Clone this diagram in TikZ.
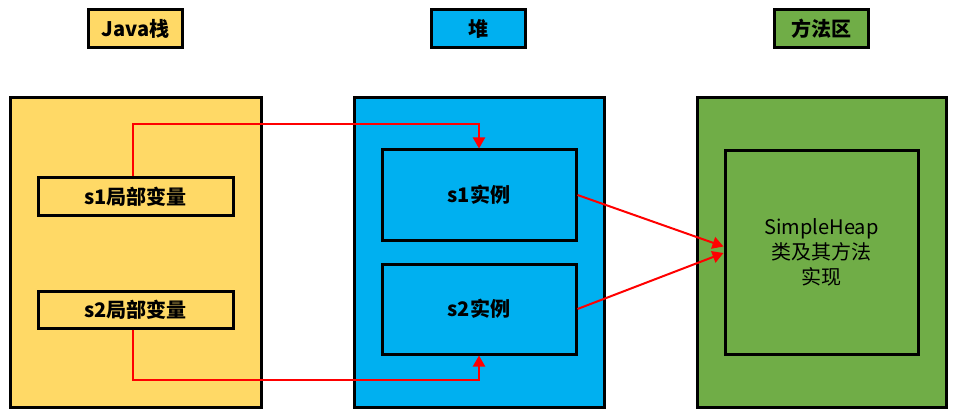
\documentclass[tikz,border=0pt]{standalone}
\usepackage{fontspec}
\setmainfont{Noto Sans CJK SC}
\usetikzlibrary{arrows.meta}
\definecolor{stackyellow}{RGB}{255,217,102}
\definecolor{heapblue}{RGB}{0,176,240}
\definecolor{methodgreen}{RGB}{112,173,71}
\tikzset{
  area/.style={draw, line width=0.06cm, inner sep=0pt},
  title/.style={area, minimum width=1.88cm, minimum height=0.76cm, font=\fontsize{11.4}{14}\selectfont\bfseries},
  item/.style={area, font=\fontsize{11.4}{14}\selectfont\bfseries},
  link/.style={draw=red, line width=0.04cm, -{Triangle[width=0.24cm,length=0.22cm]}}
}
\begin{document}
\begin{tikzpicture}
    \useasboundingbox (0,0) rectangle (19.12,8.34);
    {
    % Titles
    \node [title, fill=stackyellow] (javatitle) at (2.71,7.76) {Java栈};
    \node [title, fill=heapblue] (heaptitle) at (9.57,7.76) {堆};
    \node [title, fill=methodgreen] (methodtitle) at (16.43,7.76) {方法区};

    % Big areas
    \node [area, fill=stackyellow, minimum width=5.02cm, minimum height=6.18cm] (stack) at (2.71,3.29) {};
    \node [area, fill=heapblue, minimum width=5.00cm, minimum height=6.18cm] (heap) at (9.58,3.29) {};
    \node [area, fill=methodgreen, minimum width=4.98cm, minimum height=6.18cm] (method) at (16.43,3.29) {};

    % Local variables on the stack
    \node [item, minimum width=3.90cm, minimum height=0.74cm] (s1var) at (2.71,4.41) {s1局部变量};
    \node [item, minimum width=3.90cm, minimum height=0.74cm] (s2var) at (2.71,2.15) {s2局部变量};

    % Instances in the heap
    \node [item, minimum width=3.88cm, minimum height=1.80cm] (s1inst) at (9.58,4.44) {s1实例};
    \node [item, minimum width=3.88cm, minimum height=1.80cm] (s2inst) at (9.58,2.16) {s2实例};

    % Class in the method area
    \node [area, minimum width=3.86cm, minimum height=4.06cm, align=center,
           font=\fontsize{11.4}{14.2}\selectfont] (simpleheap) at (16.43,3.29) {SimpleHeap\\类及其方法\\实现};

    % References from the stack to the heap
    \draw [link] ([xshift=-0.05cm]s1var.north) -- ++(0,1.04) -| (s1inst.north);
    \draw [link] ([xshift=-0.05cm]s2var.south) -- ++(0,-1.00) -| (s2inst.south);

    % Instances point to the class
    \draw [link] (s1inst.east) -- ([yshift=0.12cm]simpleheap.west);
    \draw [link] (s2inst.east) -- ([yshift=-0.01cm]simpleheap.west);
    }
\end{tikzpicture}
\end{document}
